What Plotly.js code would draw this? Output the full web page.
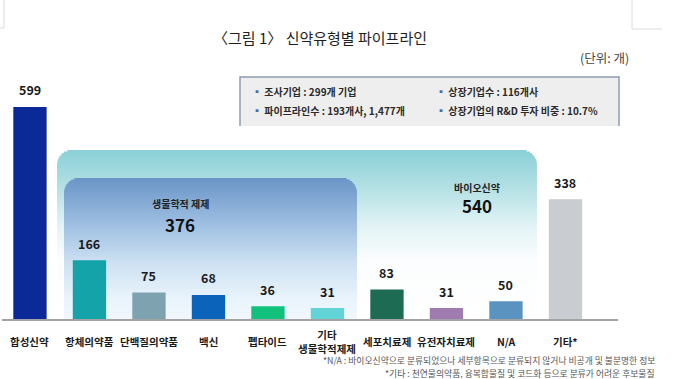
<!DOCTYPE html>
<html>
<head>
<meta charset="utf-8">
<script src="https://cdn.plot.ly/plotly-3.0.1.min.js"></script>
<style>html,body{margin:0;padding:0;background:#fff;}#chart{width:680px;height:379px;}</style>
</head>
<body>
<div id="chart"></div>
<script>
// ---- data ----
const categories = ['합성신약','항체의약품','단백질의약품','백신','펩타이드','기타<br>생물학적제제','세포치료제','유전자치료제','N/A','기타*'];
const values = [599,166,75,68,36,31,83,31,50,338];
const barColors = ['#0c2a97','#13a3a8','#7fa2b1','#0c63ba','#12c17b','#62d4d8','#1d6b52','#a07bb0','#5b93c0','#c9ccd1'];
const groupNames = ['생물학적 제제','바이오신약'];
const groupTotals = [376, 540];
const infoItems = ['조사기업 : 299개 기업','상장기업수 : 116개사','파이프라인수 : 193개사, 1,477개','상장기업의 R&amp;D 투자 비중 : 10.7%'];
const titleText = '〈그림 1〉 신약유형별 파이프라인';
const unitText = '(단위: 개)';
const footnotes = ['*N/A : 바이오신약으로 분류되었으나 세부항목으로 분류되지 않거나 비공개 및 불분명한 정보','*기타 : 천연물의약품, 융복합물질 및 코드화 등으로 분류가 어려운 후보물질'];

// ---- layout geometry (pixels) ----
const W = 680, H = 379;
const PL = 2, PR = 618, PT = 60, PB = 319;
const FONT = '"Noto Sans CJK KR", "Noto Sans", sans-serif';
const px = x => x / W;
const py = y => 1 - y / H;

function hexToRgb(h){h=h.replace('#','');return [parseInt(h.substr(0,2),16),parseInt(h.substr(2,2),16),parseInt(h.substr(4,2),16)];}
function colorAt(stops,t){
  for(let i=0;i<stops.length-1;i++){
    const [t0,c0]=stops[i],[t1,c1]=stops[i+1];
    if(t>=t0&&t<=t1){
      const f=(t-t0)/(t1-t0||1);const a=hexToRgb(c0),b=hexToRgb(c1);
      return 'rgb('+a.map((v,k)=>Math.round(v+(b[k]-v)*f)).join(',')+')';
    }
  }
  return stops[stops.length-1][1];
}
function gradientPanel(x0,x1,y0,y1,r,stops){
  const out=[];const step=1.5;
  for(let y=y0;y<y1;y+=step){
    const yc=y+step/2;const d=yc-y0;
    let inset=0;
    if(d<r){inset=r-Math.sqrt(Math.max(0,r*r-(r-d)*(r-d)));}
    out.push({type:'rect',xref:'paper',yref:'paper',layer:'below',
      x0:px(x0+inset),x1:px(x1-inset),y0:py(Math.min(y+step+0.6,y1)),y1:py(y),
      fillcolor:colorAt(stops,(yc-y0)/(y1-y0)),line:{width:0}});
  }
  return out;
}

const shapes = [];
// page corner marks
shapes.push({type:'line',xref:'paper',yref:'paper',x0:px(4),x1:px(4),y0:py(0),y1:py(28),line:{color:'#dcdcdc',width:1}});
shapes.push({type:'line',xref:'paper',yref:'paper',x0:px(0),x1:px(4),y0:py(28),y1:py(28),line:{color:'#dcdcdc',width:1}});
shapes.push({type:'line',xref:'paper',yref:'paper',x0:px(632),x1:px(632),y0:py(0),y1:py(29),line:{color:'#dcdcdc',width:1}});
shapes.push({type:'line',xref:'paper',yref:'paper',x0:px(632),x1:px(662),y0:py(29),y1:py(29),line:{color:'#dcdcdc',width:1}});
// info box
shapes.push({type:'rect',xref:'paper',yref:'paper',layer:'below',x0:px(240),x1:px(619),y0:py(126),y1:py(77),fillcolor:'#eeeeee',line:{width:0}});
shapes.push({type:'path',xref:'paper',yref:'paper',path:`M ${px(240)} ${py(126)} L ${px(240)} ${py(77)} L ${px(619)} ${py(77)} L ${px(619)} ${py(126)}`,line:{color:'#8e9cb4',width:1.5}});
// panels
shapes.push(...gradientPanel(57,537,150,319,15,[[0,'#8ad0d7'],[0.22,'#b3e0e4'],[0.45,'#e2f3f5'],[0.65,'#fbfdfe'],[1,'#ffffff']]));
shapes.push(...gradientPanel(64,357,178,319,15,[[0,'#6a95c7'],[0.3,'#99bbdf'],[0.6,'#cde1f2'],[0.85,'#e8f3fb'],[1,'#f1f8fd']]));

const xs = categories.map((c,i)=>i);

const annotations = [];
annotations.push({xref:'paper',yref:'paper',x:px(320),y:py(38),text:titleText,showarrow:false,xanchor:'center',yanchor:'middle',font:{family:FONT,size:15,color:'#1e1e1e'}});
annotations.push({xref:'paper',yref:'paper',x:px(631),y:py(57),text:unitText,showarrow:false,xanchor:'right',yanchor:'middle',font:{family:FONT,size:12.5,color:'#444'}});
// info items
const infoPos=[[250,92],[434,92],[250,110],[434,110]];
infoItems.forEach((t,i)=>{
  annotations.push({xref:'paper',yref:'paper',x:px(infoPos[i][0]),y:py(infoPos[i][1]),xanchor:'left',yanchor:'middle',showarrow:false,
    text:'<span style="color:#4a6aa8">▪</span> <b>'+t+'</b>',font:{family:FONT,size:10,color:'#2a2a2a'}});
});
// group headings
const groupPos=[[180,203,224],[477,187,205]];
groupNames.forEach((g,i)=>{
  annotations.push({xref:'paper',yref:'paper',x:px(groupPos[i][0]),y:py(groupPos[i][1]),showarrow:false,xanchor:'center',yanchor:'middle',text:'<b>'+g+'</b>',font:{family:FONT,size:10,color:'#222'}});
  annotations.push({xref:'paper',yref:'paper',x:px(groupPos[i][0]),y:py(groupPos[i][2]),showarrow:false,xanchor:'center',yanchor:'middle',text:'<b>'+groupTotals[i]+'</b>',font:{family:FONT,size:17,color:'#111'}});
});
// value labels
values.forEach((v,i)=>{
  annotations.push({xref:'x',yref:'y',x:xs[i],y:v,yshift:17,showarrow:false,xanchor:'center',yanchor:'middle',text:'<b>'+v+'</b>',font:{family:FONT,size:12.5,color:'#1a1a1a'}});
});
// category labels
categories.forEach((c,i)=>{
  annotations.push({xref:'x',yref:'y',x:xs[i],y:0,yshift:-22,showarrow:false,xanchor:'center',yanchor:'middle',text:'<b>'+c+'</b>',font:{family:FONT,size:10.5,color:'#1a1a1a'}});
});
// footnotes
footnotes.forEach((f,i)=>{
  annotations.push({xref:'paper',yref:'paper',x:px(656),y:py(360.5+i*12.5),showarrow:false,xanchor:'right',yanchor:'middle',text:f,font:{family:FONT,size:8.8,color:'#555'},borderpad:0});
});

const trace = {
  type:'bar', x:xs, y:values, width:0.56,
  marker:{color:barColors,line:{width:0}},
  hoverinfo:'skip', showlegend:false
};

const layout = {
  width:W, height:H,
  margin:{l:0,r:0,t:0,b:0},
  paper_bgcolor:'#ffffff', plot_bgcolor:'rgba(0,0,0,0)',
  xaxis:{domain:[px(PL),px(PR)],range:[-0.47,9.883],showticklabels:false,ticks:'',showgrid:false,zeroline:false,showline:true,linecolor:'#a3a3a3',linewidth:2,fixedrange:true},
  yaxis:{domain:[py(PB),py(PT)],range:[0,731.6],visible:false,showgrid:false,zeroline:false,fixedrange:true},
  shapes:shapes, annotations:annotations, showlegend:false,
  font:{family:FONT}
};

Plotly.newPlot('chart',[trace],layout,{displayModeBar:false,staticPlot:true});
</script>
</body>
</html>
